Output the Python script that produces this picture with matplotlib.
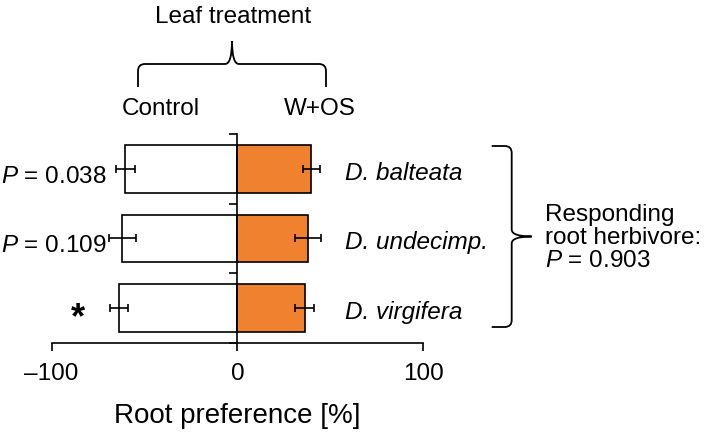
import matplotlib.pyplot as plt
import numpy as np
from matplotlib.path import Path
from matplotlib.patches import PathPatch

plt.rcParams['font.family'] = ['Liberation Sans', 'DejaVu Sans']
plt.rcParams['mathtext.fontset'] = 'custom'
plt.rcParams['mathtext.rm'] = 'Liberation Sans'
plt.rcParams['mathtext.it'] = 'Liberation Sans:italic'

# Data
species = ["D. balteata", "D. undecimp.", "D. virgifera"]
control = [-60.4, -62.0, -63.8]
control_err = [5.0, 7.2, 5.0]
wos = [39.8, 38.0, 36.2]
wos_err = [4.7, 7.0, 5.0]
p_labels = ["$P$ = 0.038", "$P$ = 0.109", "*"]
x_ticks = [-100, 0, 100]

FS = 17.5
ORANGE = '#F0822F'

fig = plt.figure(figsize=(7.09, 4.35), dpi=100)
ax = fig.add_axes([0.0729, 0.2092, 0.5241, 0.4805])

y = np.arange(len(species))
ax.barh(y, control, height=0.68, color='white', edgecolor='black', linewidth=1.2,
        xerr=control_err, error_kw=dict(ecolor='black', elinewidth=1.2, capsize=3, capthick=1.2))
ax.barh(y, wos, height=0.68, color=ORANGE, edgecolor='black', linewidth=1.2,
        xerr=wos_err, error_kw=dict(ecolor='black', elinewidth=1.2, capsize=3, capthick=1.2))

ax.set_xlim(-100, 100)
ax.set_ylim(2.5, -0.5)
ax.set_xticks(x_ticks)
ax.set_xticklabels(['\u2013100', '0', '100'])
ax.set_yticks([-0.5, 0.5, 1.5, 2.5])
ax.set_yticklabels([])
ax.spines['top'].set_visible(False)
ax.spines['right'].set_visible(False)
ax.spines['left'].set_position(('data', 0))
ax.spines['left'].set_zorder(5)
for s in ('left', 'bottom'):
    ax.spines[s].set_linewidth(1.2)
ax.tick_params(axis='both', direction='out', length=8 * 0.72, width=1.2, labelsize=FS, pad=8)
ax.set_xlabel('Root preference [%]', fontsize=20, labelpad=13)

# P-values / significance on the left
for i, lab in enumerate(p_labels):
    if lab == "*":
        ax.text(-86, i + 0.14, lab, ha='center', va='center', fontsize=26, fontweight='bold')
    else:
        ax.text(-70.5, i + 0.1, lab, ha='right', va='center', fontsize=FS)

# species names on the right
for i, name in enumerate(species):
    ax.text(58, i + 0.05, name, ha='left', va='center', fontsize=FS, fontstyle='italic')

# overlay in pixel coordinates for braces and annotations
ov = fig.add_axes([0, 0, 1, 1])
ov.set_xlim(0, 709)
ov.set_ylim(435, 0)
ov.axis('off')
ov.patch.set_alpha(0)


def hbrace(x0, x1, yline, ytip, yend, r=7):
    xm = (x0 + x1) / 2
    verts = [(x0, yend), (x0, yline + r), (x0, yline), (x0 + r, yline),
             (xm - r, yline), (xm, yline), (xm, ytip),
             (xm, yline), (xm + r, yline),
             (x1 - r, yline), (x1, yline), (x1, yline + r), (x1, yend)]
    codes = [Path.MOVETO, Path.LINETO, Path.CURVE3, Path.CURVE3,
             Path.LINETO, Path.CURVE3, Path.CURVE3,
             Path.CURVE3, Path.CURVE3,
             Path.LINETO, Path.CURVE3, Path.CURVE3, Path.LINETO]
    ov.add_patch(PathPatch(Path(verts, codes), fill=False, lw=1.3, color='black'))


def vbrace(y0, y1, xline, xtip, xend, r=7):
    ym = (y0 + y1) / 2
    verts = [(xend, y0), (xline - r, y0), (xline, y0), (xline, y0 + r),
             (xline, ym - r), (xline, ym), (xtip, ym),
             (xline, ym), (xline, ym + r),
             (xline, y1 - r), (xline, y1), (xline - r, y1), (xend, y1)]
    codes = [Path.MOVETO, Path.LINETO, Path.CURVE3, Path.CURVE3,
             Path.LINETO, Path.CURVE3, Path.CURVE3,
             Path.CURVE3, Path.CURVE3,
             Path.LINETO, Path.CURVE3, Path.CURVE3, Path.LINETO]
    ov.add_patch(PathPatch(Path(verts, codes), fill=False, lw=1.3, color='black'))


hbrace(138, 326, 65, 42, 88)
vbrace(147, 328, 511.7, 531.7, 491.7)

ov.text(233, 17, 'Leaf treatment', ha='center', va='center', fontsize=FS)
ov.text(161, 109, 'Control', ha='center', va='center', fontsize=FS)
ov.text(320, 109, 'W+OS', ha='center', va='center', fontsize=FS)
ov.text(545, 238, 'Responding\nroot herbivore:\n$P$ = 0.903', ha='left', va='center',
        fontsize=FS, linespacing=1.05)

fig.savefig('out.png', dpi=100)
